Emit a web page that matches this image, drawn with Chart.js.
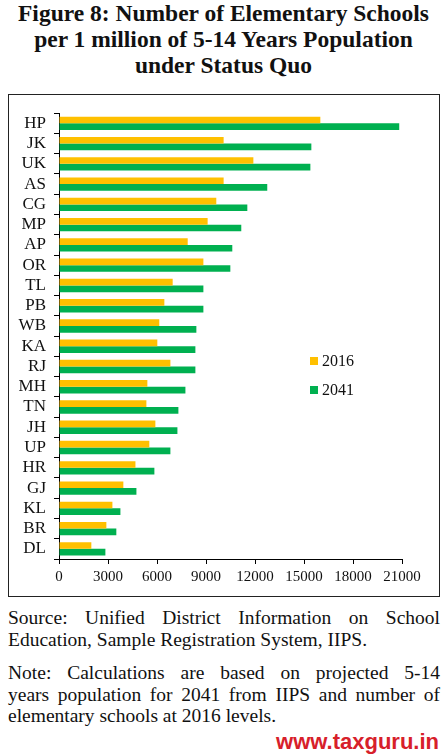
<!DOCTYPE html>
<html>
<head>
<meta charset="utf-8">
<script src="https://cdn.jsdelivr.net/npm/chart.js@4.4.1/dist/chart.umd.min.js"></script>
<style>
    body { margin: 0; background: #fff; width: 447px; height: 755px; position: relative; overflow: hidden; font-family: "Liberation Serif", "Times New Roman", serif; color: #111; }
    .title { position: absolute; left: 0; top: 0; width: 447px; text-align: center; font-weight: bold; font-size: 23.5px; line-height: 26px; }
    .box { position: absolute; left: 8px; top: 94px; width: 430px; height: 501px; border: 1.5px solid #222; }
    .box canvas { position: absolute; left: 0; top: 0; }
    .legend { position: absolute; left: 301px; font-size: 16px; line-height: 16px; }
    .legend span { display: inline-block; width: 8px; height: 8px; margin-right: 4px; vertical-align: 1px; }
    .note { position: absolute; left: 8px; width: 432px; font-size: 19.5px; line-height: 21.5px; }
    .note span { display: block; white-space: nowrap; }
    .note span.j { text-align: justify; text-align-last: justify; }
    .wm { position: absolute; right: 8px; top: 729px; font-family: "Liberation Sans", Arial, sans-serif; font-weight: bold; font-size: 22px; color: #d7202a; }
</style>
</head>
<body>
<div class="title">Figure 8: Number of Elementary Schools<br>per 1 million of 5-14 Years Population<br>under Status Quo</div>
<div class="box">
    <canvas id="chart" width="430" height="501"></canvas>
    <div class="legend" style="top:258px"><span style="background:#FFC000"></span>2016</div>
    <div class="legend" style="top:287px"><span style="background:#00B050"></span>2041</div>
</div>
<div class="note" style="top:607px">
    <span class="j">Source: Unified District Information on School</span>
    <span>Education, Sample Registration System, IIPS.</span>
</div>
<div class="note" style="top:662px">
    <span class="j">Note: Calculations are based on projected 5-14</span>
    <span class="j">years population for 2041 from IIPS and number of</span>
    <span>elementary schools at 2016 levels.</span>
</div>
<div class="wm">www.taxguru.in</div>

<script>
const states = ['HP', 'JK', 'UK', 'AS', 'CG', 'MP', 'AP', 'OR', 'TL', 'PB', 'WB', 'KA', 'RJ', 'MH', 'TN', 'JH', 'UP', 'HR', 'GJ', 'KL', 'BR', 'DL'];
const schools2016 = [16000, 10080, 11900, 10080, 9630, 9100, 7880, 8840, 6960, 6450, 6140, 6020, 6820, 5410, 5350, 5900, 5530, 4680, 3940, 3270, 2900, 1980];
const schools2041 = [20830, 15450, 15390, 12750, 11530, 11160, 10610, 10490, 8840, 8840, 8410, 8350, 8350, 7740, 7310, 7250, 6820, 5840, 4740, 3760, 3510, 2840];
const xTicks = [0, 3000, 6000, 9000, 12000, 15000, 18000, 21000];

const serif = '"Liberation Serif", "Times New Roman", serif';

const ctx = document.getElementById('chart').getContext('2d');

new Chart(ctx, {
    type: 'bar',
    data: {
        labels: states,
        datasets: [
            { label: '2016', data: schools2016, backgroundColor: '#FFC000' },
            { label: '2041', data: schools2041, backgroundColor: '#00B050' }
        ]
    },
    options: {
        indexAxis: 'y',
        responsive: false,
        animation: false,
        categoryPercentage: 0.66,
        barPercentage: 1,
        layout: { padding: { top: 10, right: 37, left: 0, bottom: 0 } },
        plugins: {
            legend: { display: false },
            tooltip: { enabled: false }
        },
        scales: {
            x: {
                min: 0,
                max: 21000,
                afterBuildTicks: function (scale) {
                    scale.ticks = xTicks.map(v => ({ value: v }));
                },
                afterFit: function (scale) { scale.height = 37; },
                grid: { drawOnChartArea: false, tickLength: 5, color: '#000' },
                border: { color: '#000', width: 1 },
                ticks: {
                    color: '#111',
                    font: { family: serif, size: 15 },
                    padding: 4,
                    maxRotation: 0,
                    callback: function (value) { return String(value); }
                }
            },
            y: {
                afterFit: function (scale) { scale.width = 50; },
                grid: { drawOnChartArea: false, tickLength: 5, color: '#000' },
                border: { color: '#000', width: 1 },
                ticks: { color: '#111', font: { family: serif, size: 17 }, padding: 8, autoSkip: false }
            }
        }
    }
});
</script>
</body>
</html>
